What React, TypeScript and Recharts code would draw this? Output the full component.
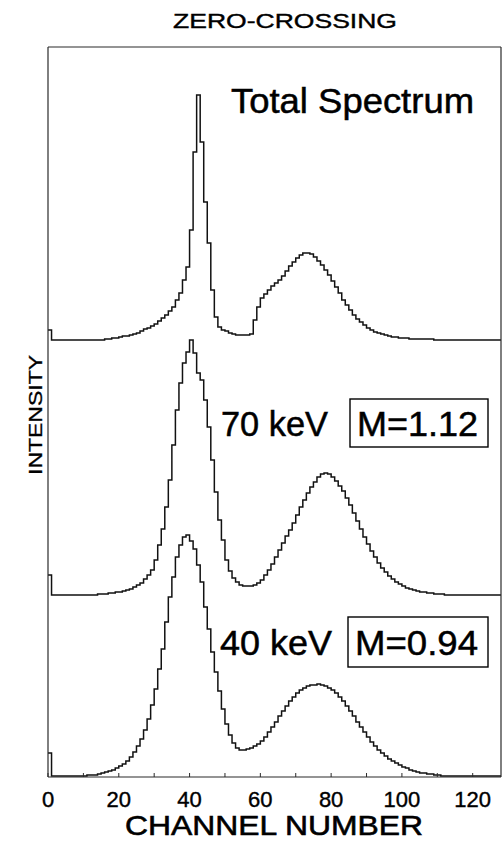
import React from 'react';
import { LineChart, Line, XAxis, YAxis } from 'recharts';

// Pulse-height spectra (counts per channel above each trace's own baseline)
const CHANNEL_COUNT = 128;

const TOTAL_SPECTRUM = [
  10, 0, 0, 0, 0, 0, 0, 0, 0, 0,
  0, 0, 0, 0, 0, 0, 1, 1, 2, 2,
  3, 4, 4, 5, 6, 7, 9, 11, 12, 14,
  16, 19, 22, 25, 29, 33, 40, 47, 60, 73,
  110, 188, 245, 198, 138, 97, 50, 23, 13, 10,
  9, 7, 6, 5, 5, 5, 5, 6, 20, 33,
  42, 46, 50, 54, 57, 60, 64, 69, 74, 78,
  82, 85, 87, 87, 86, 83, 79, 75, 70, 65,
  59, 53, 47, 40, 35, 30, 25, 21, 18, 15,
  12, 10, 8, 7, 6, 5, 4, 3, 3, 2,
  2, 2, 1, 1, 1, 1, 1, 1, 1, 0,
  0, 0, 0, 0, 0, 0, 0, 0, 0, 0,
  0, 0, 0, 0, 0, 0, 0, 0,
];

const KEV70_SPECTRUM = [
  20, 0, 0, 0, 0, 0, 0, 0, 0, 0,
  0, 0, 0, 0, 1, 1, 1, 2, 2, 3,
  3, 4, 5, 6, 8, 10, 12, 16, 20, 25,
  35, 50, 66, 88, 115, 150, 185, 212, 232, 243,
  255, 242, 222, 215, 195, 168, 135, 103, 75, 55,
  35, 24, 17, 13, 10, 9, 9, 9, 10, 12,
  15, 20, 25, 31, 38, 45, 52, 59, 65, 72,
  80, 88, 95, 102, 108, 113, 118, 121, 122, 121,
  118, 114, 109, 104, 97, 90, 82, 74, 66, 58,
  51, 44, 38, 32, 27, 23, 19, 16, 13, 11,
  9, 7, 6, 5, 4, 3, 3, 2, 2, 1,
  1, 1, 0, 0, 0, 0, 0, 0, 0, 0,
  0, 0, 0, 0, 0, 0, 0, 0,
];

const KEV40_SPECTRUM = [
  24, 1, 1, 1, 1, 1, 1, 1, 1, 1,
  1, 2, 2, 2, 3, 4, 5, 6, 7, 9,
  11, 13, 16, 20, 25, 31, 38, 47, 58, 72,
  88, 108, 128, 155, 180, 200, 220, 232, 240, 242,
  236, 228, 212, 195, 170, 148, 125, 105, 86, 68,
  53, 42, 34, 29, 27, 27, 28, 29, 31, 33,
  36, 40, 45, 50, 55, 61, 66, 71, 76, 80,
  84, 87, 89, 91, 92, 92, 93, 92, 91, 89,
  87, 84, 80, 76, 71, 66, 61, 55, 50, 45,
  40, 35, 31, 27, 24, 21, 18, 16, 14, 12,
  10, 9, 7, 6, 5, 4, 4, 3, 3, 2,
  2, 1, 1, 1, 1, 1, 1, 1, 1, 1,
  1, 1, 1, 1, 1, 1, 1, 1,
];

// Vertical offsets that stack the three traces in one frame
const STACK_OFFSETS = { total: 437, kev70: 182, kev40: 0 };

const Y_MAX = 730;
const X_TICKS = [0, 10, 20, 30, 40, 50, 60, 70, 80, 90, 100, 110, 120];
const X_LABELED = [0, 20, 40, 60, 80, 100, 120];
const Y_TICKS = [0, 1, 2, 3, 4, 5, 6].map((i) => (i * Y_MAX) / 6);

// One row per channel edge; the final row closes the last histogram bin
const rows = Array.from({ length: CHANNEL_COUNT + 1 }, (_, ch) => {
  const i = Math.min(ch, CHANNEL_COUNT - 1);
  return {
    ch,
    total: TOTAL_SPECTRUM[i] + STACK_OFFSETS.total,
    kev70: KEV70_SPECTRUM[i] + STACK_OFFSETS.kev70,
    kev40: KEV40_SPECTRUM[i] + STACK_OFFSETS.kev40,
  };
});

const FONT = '"Liberation Sans", Arial, Helvetica, sans-serif';
const INK = '#111';
const FRAME = '#2a2a2a';

// Shared look for the annotation text: solid black with a thin outline for weight
const label = { fontFamily: FONT, fill: '#000', stroke: '#000', strokeWidth: 0.5 } as const;

export default function App() {
  return (
    <div style={{ position: 'absolute', left: 0, top: 0, width: 504, height: 842, background: '#fff' }}>
      <LineChart
        width={504}
        height={842}
        data={rows}
        margin={{ top: 46, right: 2, bottom: 64, left: 47 }}
        style={{ fontFamily: FONT }}
      >
        <XAxis
          xAxisId="bottom"
          dataKey="ch"
          type="number"
          domain={[0, CHANNEL_COUNT]}
          ticks={X_TICKS}
          interval={0}
          height={1}
          tickSize={-4}
          tickMargin={18}
          tickFormatter={(v: number) => (X_LABELED.includes(v) ? String(v) : '')}
          tick={{ fill: '#000', stroke: '#000', strokeWidth: 0.4, fontSize: 22, fontFamily: FONT }}
          axisLine={{ stroke: FRAME, strokeWidth: 1.2 }}
          tickLine={{ stroke: FRAME, strokeWidth: 1 }}
        />
        <XAxis
          xAxisId="top"
          orientation="top"
          dataKey="ch"
          type="number"
          domain={[0, CHANNEL_COUNT]}
          ticks={X_TICKS}
          interval={0}
          height={1}
          tickSize={-4}
          tick={false}
          axisLine={{ stroke: FRAME, strokeWidth: 1.2 }}
          tickLine={{ stroke: FRAME, strokeWidth: 1 }}
        />
        <YAxis
          yAxisId="left"
          type="number"
          domain={[0, Y_MAX]}
          ticks={Y_TICKS}
          interval={0}
          width={1}
          tickSize={-4}
          tick={false}
          axisLine={{ stroke: FRAME, strokeWidth: 1.2 }}
          tickLine={{ stroke: FRAME, strokeWidth: 1 }}
        />
        <YAxis
          yAxisId="right"
          orientation="right"
          type="number"
          domain={[0, Y_MAX]}
          ticks={Y_TICKS}
          interval={0}
          width={1}
          tickSize={-4}
          tick={false}
          axisLine={{ stroke: FRAME, strokeWidth: 1.2 }}
          tickLine={{ stroke: FRAME, strokeWidth: 1 }}
        />
        <Line xAxisId="bottom" yAxisId="left" type="stepAfter" dataKey="total" stroke={INK} strokeWidth={1.5} dot={false} isAnimationActive={false} />
        <Line xAxisId="bottom" yAxisId="left" type="stepAfter" dataKey="kev70" stroke={INK} strokeWidth={1.5} dot={false} isAnimationActive={false} />
        <Line xAxisId="bottom" yAxisId="left" type="stepAfter" dataKey="kev40" stroke={INK} strokeWidth={1.5} dot={false} isAnimationActive={false} />

        <text x={285} y={28} textAnchor="middle" fontSize={21} {...label} strokeWidth={0.4} textLength={224} lengthAdjust="spacingAndGlyphs">ZERO-CROSSING</text>
        <text x={231} y={113} fontSize={35} {...label} textLength={243} lengthAdjust="spacingAndGlyphs">Total Spectrum</text>

        <text x={221} y={436} fontSize={35} {...label} textLength={107} lengthAdjust="spacingAndGlyphs">70 keV</text>
        <rect x={350} y={399} width={138} height={48} fill="none" stroke="#000" strokeWidth={1.4} />
        <text x={357} y={436} fontSize={35} {...label} textLength={121} lengthAdjust="spacingAndGlyphs">M=1.12</text>

        <text x={220} y={655} fontSize={35} {...label} textLength={112} lengthAdjust="spacingAndGlyphs">40 keV</text>
        <rect x={348} y={617} width={140} height={50} fill="none" stroke="#000" strokeWidth={1.4} />
        <text x={355} y={655} fontSize={35} {...label} textLength={123} lengthAdjust="spacingAndGlyphs">M=0.94</text>

        <text x={274} y={835} textAnchor="middle" fontSize={28} {...label} strokeWidth={0.6} textLength={298} lengthAdjust="spacingAndGlyphs">CHANNEL NUMBER</text>
        <text x={42} y={415} transform="rotate(-90 42 415)" textAnchor="middle" fontSize={19} {...label} strokeWidth={0.3} textLength={120} lengthAdjust="spacingAndGlyphs">INTENSITY</text>
      </LineChart>
    </div>
  );
}
